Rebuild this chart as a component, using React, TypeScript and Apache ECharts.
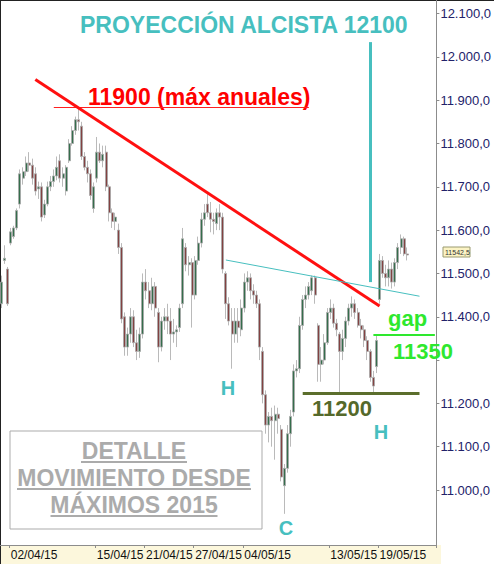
import React, { useEffect, useRef } from "react";
import * as echarts from "echarts";

// trading sessions shown (4 bars per session, partial first and last session)
const tradingDays = [
  "01/04/15", "02/04/15", "07/04/15", "08/04/15", "09/04/15", "10/04/15", "13/04/15", "14/04/15",
  "15/04/15", "16/04/15", "17/04/15", "20/04/15", "21/04/15", "22/04/15", "23/04/15", "24/04/15",
  "27/04/15", "28/04/15", "29/04/15", "30/04/15", "04/05/15", "05/05/15", "06/05/15", "07/05/15",
  "08/05/15", "11/05/15", "12/05/15", "13/05/15", "14/05/15", "15/05/15", "18/05/15", "19/05/15",
  "20/05/15", "21/05/15",
];
const barsPerDay = [
  3, 4, 4, 4, 4, 4, 4, 4, 4, 4, 4, 4, 4, 4, 4, 4,
  4, 4, 4, 4, 4, 4, 4, 4, 4, 4, 4, 4, 4, 4, 4, 4,
  4, 2,
];
const emptySlots = 9;
const labelledDays = ["02/04/15", "15/04/15", "21/04/15", "27/04/15", "04/05/15", "13/05/15", "19/05/15"];
const yTickValues = [11000, 11100, 11200, 11300, 11400, 11500, 11600, 11700, 11800, 11900, 12000, 12100];
// 11.300,0 is hidden behind the "11350" note in the reference
const yLabelValues = [11000, 11100, 11200, 11400, 11500, 11600, 11700, 11800, 11900, 12000, 12100];

const opens = [
  11430, 11530, 11510,
  11570, 11585, 11605, 11660,
  11720, 11735, 11755, 11750,
  11730, 11695, 11700, 11635,
  11660, 11700, 11712, 11725,
  11760, 11720, 11690, 11760,
  11800, 11830, 11855, 11840,
  11770, 11745, 11730, 11650,
  11720, 11780, 11760, 11780,
  11700, 11640, 11620, 11600,
  11560, 11400, 11330, 11360,
  11400, 11340, 11320, 11360,
  11480, 11460, 11430, 11470,
  11410, 11330, 11390, 11400,
  11390, 11360, 11365, 11375,
  11430, 11560, 11520, 11525,
  11450, 11530, 11570, 11625,
  11660, 11640, 11625, 11615,
  11640, 11630, 11500, 11430,
  11390, 11360, 11390, 11370,
  11420, 11480, 11490, 11460,
  11450, 11430, 11320, 11220,
  11150, 11170, 11160, 11175,
  11140, 11010, 11050, 11130,
  11180, 11275, 11280, 11380,
  11440, 11450, 11460, 11490,
  11380, 11290, 11300, 11340,
  11410, 11420, 11385, 11360,
  11320, 11350, 11390, 11420,
  11430, 11410, 11380, 11370,
  11345, 11320, 11260, 11285,
  11440, 11530, 11500, 11490,
  11510, 11480, 11525, 11560,
  11580, 11545,
];
const closes = [
  11480, 11535, 11430,
  11596, 11605, 11645, 11730,
  11735, 11755, 11750, 11720,
  11690, 11700, 11630, 11660,
  11700, 11712, 11725, 11745,
  11720, 11730, 11745, 11800,
  11830, 11855, 11850, 11770,
  11745, 11730, 11680, 11700,
  11780, 11760, 11775, 11700,
  11640, 11620, 11630, 11560,
  11395, 11330, 11360, 11400,
  11340, 11320, 11360, 11480,
  11460, 11430, 11470, 11420,
  11330, 11390, 11400, 11390,
  11360, 11365, 11370, 11420,
  11580, 11520, 11525, 11450,
  11530, 11570, 11625, 11640,
  11640, 11625, 11620, 11640,
  11630, 11510, 11430, 11390,
  11360, 11390, 11375, 11420,
  11480, 11490, 11460, 11450,
  11430, 11330, 11220, 11150,
  11170, 11160, 11175, 11165,
  11030, 11050, 11130, 11170,
  11275, 11280, 11380, 11440,
  11450, 11470, 11490, 11450,
  11290, 11300, 11340, 11410,
  11420, 11385, 11370, 11320,
  11350, 11390, 11420, 11430,
  11410, 11380, 11370, 11345,
  11320, 11260, 11240, 11345,
  11530, 11500, 11490, 11510,
  11480, 11525, 11560, 11580,
  11545, 11542.5,
];
const lows = [
  11420, 11522, 11425,
  11565, 11580, 11600, 11650,
  11705, 11725, 11735, 11705,
  11680, 11672, 11620, 11628,
  11655, 11690, 11700, 11715,
  11710, 11700, 11680, 11755,
  11795, 11820, 11830, 11762,
  11738, 11710, 11670, 11640,
  11710, 11755, 11745, 11690,
  11620, 11605, 11600, 11545,
  11385, 11310, 11310, 11340,
  11330, 11300, 11305, 11350,
  11440, 11420, 11415, 11400,
  11295, 11320, 11370, 11360,
  11300, 11340, 11330, 11365,
  11420, 11505, 11495, 11375,
  11440, 11520, 11560, 11610,
  11630, 11595, 11590, 11600,
  11600, 11500, 11395, 11380,
  11280, 11340, 11340, 11355,
  11410, 11460, 11440, 11430,
  11420, 11300, 11200, 11130,
  11110, 11100, 11070, 11130,
  11020, 10945, 11040, 11100,
  11170, 11260, 11270, 11370,
  11420, 11440, 11450, 11430,
  11250, 11250, 11290, 11335,
  11395, 11375, 11355, 11225,
  11300, 11330, 11380, 11400,
  11395, 11375, 11350, 11330,
  11300, 11250, 11225, 11270,
  11430, 11490, 11470, 11470,
  11465, 11470, 11510, 11545,
  11540, 11530,
];
const highs = [
  11495, 11565, 11515,
  11605, 11610, 11650, 11740,
  11745, 11770, 11780, 11765,
  11745, 11712, 11710, 11670,
  11712, 11725, 11740, 11770,
  11775, 11745, 11750, 11810,
  11840, 11862, 11884, 11850,
  11780, 11760, 11740, 11710,
  11815, 11800, 11795, 11795,
  11705, 11650, 11640, 11615,
  11570, 11410, 11375, 11420,
  11415, 11370, 11375, 11500,
  11510, 11480, 11490, 11480,
  11420, 11400, 11420, 11430,
  11420, 11395, 11380, 11430,
  11605, 11570, 11540, 11535,
  11540, 11585, 11640, 11660,
  11685, 11665, 11640, 11650,
  11660, 11640, 11505, 11445,
  11420, 11420, 11420, 11440,
  11500, 11505, 11500, 11475,
  11460, 11440, 11330, 11230,
  11180, 11190, 11195, 11190,
  11150, 11060, 11150, 11185,
  11290, 11300, 11400, 11450,
  11470, 11480, 11495, 11495,
  11385, 11330, 11360, 11420,
  11440, 11430, 11395, 11365,
  11370, 11400, 11430, 11447,
  11440, 11420, 11395, 11380,
  11355, 11325, 11275, 11358,
  11545, 11540, 11520, 11530,
  11525, 11535, 11570, 11590,
  11585, 11560,
];

// annotation lines, in [bar index, price]
const trendLine = [[11, 11947.7], [123, 11424.6]];
const resistanceLine = [[73, 11531], [136, 11447.4]];
const projectionLine = [[120, 12034], [120, 11480]];
const annualHighLine = [[17, 11884], [100, 11884]];
const gapLine = [[121, 11357.8], [141, 11357.8]];
const supportLine = [[98, 11224], [136, 11224]];

const FONT = "'Liberation Sans', Arial, sans-serif";
const TEAL = "#47bfbf";
const BOX_GREY = "#ababab";

export default function App() {
  const ref = useRef<HTMLDivElement>(null);
  useEffect(() => {
    const chart = echarts.init(ref.current!, null, { renderer: "svg" });
    const categories: string[] = [];
    const firstIdx = new Set<number>();
    tradingDays.forEach((d, k) => {
      for (let j = 0; j < barsPerDay[k]; j++) {
        if (j === 0 && labelledDays.includes(d)) firstIdx.add(categories.length);
        categories.push(d + "|" + j);
      }
    });
    for (let j = 0; j < emptySlots; j++) categories.push("|e" + j);
    const ohlc = opens.map((o, i) => [o, closes[i], lows[i], highs[i]]);

    const ml = (pts: number[][], color: string, width: number) => [
      { coord: pts[0], lineStyle: { color, width, type: "solid" } },
      { coord: pts[1] },
    ];

    const boxLine = (text: string, cy: number, w: number) => [
      {
        type: "text", x: 134, y: cy, silent: true,
        style: { text, font: `bold 23px ${FONT}`, fill: BOX_GREY, align: "center", verticalAlign: "middle" },
      },
      {
        type: "rect", silent: true,
        shape: { x: 134 - w / 2, y: cy + 10, width: w, height: 2 },
        style: { fill: BOX_GREY },
      },
    ];

    chart.setOption({
      animation: false,
      backgroundColor: "#ffffff",
      grid: { left: 0, right: 53, top: 0, bottom: 19, containLabel: false },
      xAxis: {
        type: "category",
        data: categories,
        boundaryGap: true,
        axisLine: { show: true, lineStyle: { color: "#8c8c8c", width: 1 } },
        axisTick: {
          show: true,
          interval: (i: number) => firstIdx.has(i),
          length: 3,
          lineStyle: { color: "#8c8c8c" },
        },
        axisLabel: {
          interval: (i: number) => firstIdx.has(i),
          formatter: (v: string) => v.split("|")[0],
          align: "left",
          margin: 4,
          hideOverlap: false,
          color: "#111111",
          fontSize: 12,
          fontFamily: FONT,
        },
        splitLine: { show: false },
      },
      yAxis: {
        type: "value",
        position: "right",
        min: 10873.1,
        max: 12131.2,
        scale: true,
        axisLine: { show: true, lineStyle: { color: "#8c8c8c" } },
        axisTick: { show: true, length: 3, customValues: yTickValues, lineStyle: { color: "#8c8c8c" } },
        axisLabel: {
          customValues: yLabelValues,
          margin: 4,
          color: "#22226a",
          fontSize: 13,
          fontFamily: FONT,
          formatter: (v: number) =>
            Math.floor(v / 1000) + "." + String(Math.round(v % 1000)).padStart(3, "0") + ",0",
        },
        splitLine: { show: false },
      },
      series: [
        {
          type: "candlestick",
          data: ohlc,
          barWidth: 2.5,
          itemStyle: {
            color: "#356e4c",
            color0: "#834242",
            borderColor: "#a8a8a8",
            borderColor0: "#a8a8a8",
            borderWidth: 0.8,
          },
          markLine: {
            silent: true,
            symbol: ["none", "none"],
            label: { show: false },
            emphasis: { disabled: true },
            data: [
              ml(annualHighLine, "#ff2020", 1),
              ml(trendLine, "#ff1010", 3),
              ml(resistanceLine, TEAL, 1),
              ml(projectionLine, TEAL, 3),
              ml(gapLine, "#2ee82e", 2),
              ml(supportLine, "#5b6e2c", 3),
            ],
          },
        },
      ],
      graphic: [
        { type: "rect", shape: { x: 0, y: 545, width: 441, height: 19 }, style: { fill: "#fcf7dc" }, z: -1, silent: true },
        { type: "rect", shape: { x: 0, y: 0, width: 1, height: 564 }, style: { fill: "#222" }, silent: true },
        { type: "rect", shape: { x: 0, y: 0, width: 494, height: 1 }, style: { fill: "#222" }, silent: true },
        {
          type: "text", x: 80, y: 25, silent: true,
          style: { text: "PROYECCIÓN ALCISTA 12100", font: `bold 23px ${FONT}`, fill: TEAL, verticalAlign: "middle" },
        },
        {
          type: "text", x: 88, y: 97, silent: true,
          style: { text: "11900 (máx anuales)", font: `bold 23px ${FONT}`, fill: "#ff0000", verticalAlign: "middle" },
        },
        {
          type: "text", x: 388, y: 318, silent: true,
          style: { text: "gap", font: `bold 22px ${FONT}`, fill: "#2ee82e", verticalAlign: "middle" },
        },
        {
          type: "text", x: 393, y: 351, silent: true, z: 51,
          style: { text: "11350", font: `bold 22px ${FONT}`, fill: "#2ee82e", verticalAlign: "middle" },
        },
        {
          type: "text", x: 312, y: 408, silent: true,
          style: { text: "11200", font: `bold 22px ${FONT}`, fill: "#55692a", verticalAlign: "middle" },
        },
        {
          type: "text", x: 228, y: 388, silent: true,
          style: { text: "H", font: `bold 20px ${FONT}`, fill: TEAL, align: "center", verticalAlign: "middle" },
        },
        {
          type: "text", x: 381, y: 432, silent: true,
          style: { text: "H", font: `bold 20px ${FONT}`, fill: TEAL, align: "center", verticalAlign: "middle" },
        },
        {
          type: "text", x: 286, y: 528, silent: true,
          style: { text: "C", font: `bold 20px ${FONT}`, fill: TEAL, align: "center", verticalAlign: "middle" },
        },
        {
          type: "rect", shape: { x: 10, y: 431, width: 252, height: 98 },
          style: { fill: "#ffffff", stroke: BOX_GREY, lineWidth: 1 }, silent: true,
        },
        ...boxLine("DETALLE", 451, 106),
        ...boxLine("MOVIMIENTO DESDE", 478, 234),
        ...boxLine("MÁXIMOS 2015", 505, 167),
        {
          type: "group", x: 443, y: 247, silent: true,
          children: [
            { type: "rect", shape: { x: 0, y: 0, width: 27, height: 10 }, style: { fill: "#fbf3c4", stroke: "#9a9a70", lineWidth: 1 } },
            { type: "text", x: 2, y: 5, style: { text: "11542,5", font: `7px ${FONT}`, fill: "#333", verticalAlign: "middle" } },
          ],
        },
      ],
    });
    return () => chart.dispose();
  }, []);
  return (
    <div
      ref={ref}
      style={{ position: "fixed", left: 0, top: 0, width: 494, height: 564, background: "#fff" }}
    />
  );
}
